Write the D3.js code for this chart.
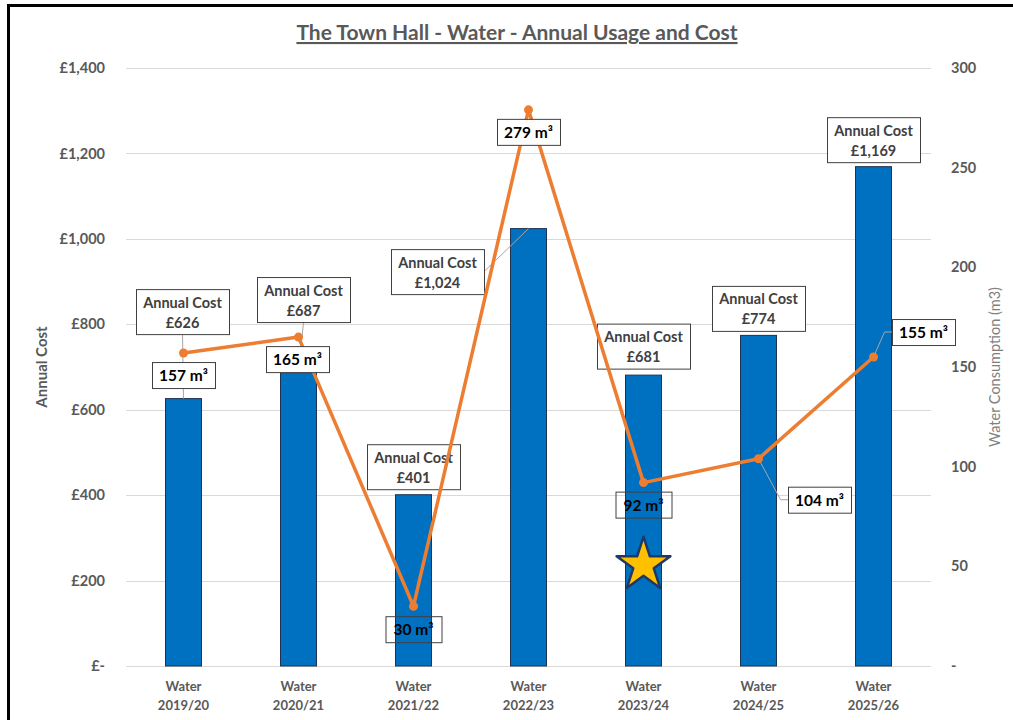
<!DOCTYPE html>
<html>
<head>
<meta charset="utf-8">
<script src="https://cdn.jsdelivr.net/npm/d3@7"></script>
<style>
  body { margin: 0; background: #fff; }
  text { font-family: Lato, "Open Sans", sans-serif; }
</style>
</head>
<body>
<div id="chart"></div>
<script>
// chart data
var years = ["2019/20", "2020/21", "2021/22", "2022/23", "2023/24", "2024/25", "2025/26"];
var costs = [626, 687, 401, 1024, 681, 774, 1169];
var usage = [157, 165, 30, 279, 92, 104, 155];
var costTicks = [0, 200, 400, 600, 800, 1000, 1200, 1400];
var usageTicks = [0, 50, 100, 150, 200, 250, 300];

// label placement (offsets from the mark, px)
var costLabelOffset = [[-1, -87], [5, -73], [0, -28], [-91, 43], [0, -29], [0, -27], [0, -27]];
var usageLabelOffset = [[0, 22], [-1, 22], [0, 23], [0, 22], [0, 22], [61, 41], [50, -25]];
var usageLabelFilled = [true, true, false, true, false, true, true];

var width = 1013, height = 720;
var margin = {top: 68, left: 126, right: 82, bottom: 54};

var svg = d3.select("#chart").append("svg")
    .attr("width", width)
    .attr("height", height);

// outer frame
svg.append("rect")
    .attr("x", 8.5).attr("y", 5.5)
    .attr("width", 1012).attr("height", 720)
    .attr("fill", "none").attr("stroke", "#000").attr("stroke-width", 3);

var x = d3.scaleBand()
    .domain(years)
    .range([margin.left, width - margin.right]);

var yCost = d3.scaleLinear()
    .domain([0, 1400])
    .range([height - margin.bottom, margin.top]);

var yUse = d3.scaleLinear()
    .domain([0, 300])
    .range([height - margin.bottom, margin.top]);

var barW = 36;
var cxi = function(i) { return x(years[i]) + x.bandwidth() / 2; };
var cx = function(d, i) { return cxi(i); };

// title
svg.append("text")
    .attr("x", 517).attr("y", 40)
    .attr("text-anchor", "middle")
    .attr("font-size", 21).attr("font-weight", "bold")
    .attr("fill", "#595959")
    .attr("text-decoration", "underline")
    .text("The Town Hall - Water - Annual Usage and Cost");

// gridlines
svg.append("g")
    .selectAll("line")
    .data(costTicks)
    .enter().append("line")
    .attr("x1", margin.left).attr("x2", width - margin.right)
    .attr("y1", function(d) { return Math.round(yCost(d)) + 0.5; })
    .attr("y2", function(d) { return Math.round(yCost(d)) + 0.5; })
    .attr("stroke", "#D9D9D9").attr("stroke-width", 1);

// left axis
var fmtCost = function(d) { return d === 0 ? "£-" : "£" + d3.format(",")(d); };
var leftAxis = svg.append("g")
    .attr("transform", "translate(" + (margin.left - 18) + ",0)")
    .call(d3.axisLeft(yCost).tickValues(costTicks).tickFormat(fmtCost).tickSize(0));
leftAxis.select(".domain").remove();
leftAxis.selectAll("text")
    .attr("font-size", 14.5).attr("font-weight", "bold").attr("fill", "#595959")
    .attr("font-family", "Lato, sans-serif");

// right axis
var rightAxis = svg.append("g")
    .attr("transform", "translate(" + (width - margin.right + 17) + ",0)")
    .call(d3.axisRight(yUse).tickValues(usageTicks)
        .tickFormat(function(d) { return d === 0 ? "-" : d; }).tickSize(0));
rightAxis.select(".domain").remove();
rightAxis.selectAll("text")
    .attr("font-size", 14.5).attr("font-weight", "bold").attr("fill", "#595959")
    .attr("font-family", "Lato, sans-serif");

// axis titles
svg.append("text")
    .attr("transform", "translate(47,367) rotate(-90)")
    .attr("text-anchor", "middle")
    .attr("font-size", 15).attr("font-weight", "bold").attr("fill", "#595959")
    .text("Annual Cost");

svg.append("text")
    .attr("transform", "translate(1000,367) rotate(-90)")
    .attr("text-anchor", "middle")
    .attr("font-size", 14.5).attr("fill", "#7F7F7F")
    .text("Water Consumption (m3)");

// x labels
var xl = svg.append("g").selectAll("text")
    .data(years)
    .enter().append("text")
    .attr("text-anchor", "middle")
    .attr("font-size", 13).attr("font-weight", "bold").attr("fill", "#595959");
xl.append("tspan").attr("x", cx).attr("y", 691).text("Water");
xl.append("tspan").attr("x", cx).attr("y", 710).text(function(d) { return d; });

// bars
svg.append("g")
    .selectAll("rect")
    .data(costs)
    .enter().append("rect")
    .attr("x", function(d, i) { return cx(d, i) - barW / 2; })
    .attr("y", function(d) { return yCost(d); })
    .attr("width", barW)
    .attr("height", function(d) { return yCost(0) - yCost(d); })
    .attr("fill", "#0070C0")
    .attr("stroke", "#1F3250").attr("stroke-width", 1);

// cost label leaders (only where the label sits far from its bar)
var boxW = 93, boxH = 45;
var costLeaders = d3.range(costs.length).filter(function(i) {
    return Math.abs(costLabelOffset[i][1]) > 40;
});
svg.append("g")
    .selectAll("line")
    .data(costLeaders)
    .enter().append("line")
    .attr("x1", function(i) { return cxi(i); })
    .attr("y1", function(i) { return yCost(costs[i]); })
    .attr("x2", function(i) {
        var o = costLabelOffset[i];
        return o[0] < -50 ? cxi(i) + o[0] + boxW / 2 : cxi(i) + o[0];
    })
    .attr("y2", function(i) {
        var o = costLabelOffset[i];
        return o[0] < -50 ? yCost(costs[i]) + o[1] : yCost(costs[i]) + o[1] + boxH / 2;
    })
    .attr("stroke", "#A6A6A6").attr("stroke-width", 1);

// cost labels
var cl = svg.append("g")
    .selectAll("g")
    .data(costs)
    .enter().append("g")
    .attr("transform", function(d, i) {
        var o = costLabelOffset[i];
        return "translate(" + (cx(d, i) + o[0]) + "," + (yCost(d) + o[1]) + ")";
    });
cl.append("rect")
    .attr("x", -boxW / 2 + 0.5).attr("y", -boxH / 2 + 0.5)
    .attr("width", boxW).attr("height", boxH)
    .attr("fill", "#fff").attr("stroke", "#404040").attr("stroke-width", 1);
cl.append("text")
    .attr("text-anchor", "middle").attr("y", -4)
    .attr("font-size", 14.5).attr("font-weight", "bold").attr("fill", "#404040")
    .text("Annual Cost");
cl.append("text")
    .attr("text-anchor", "middle").attr("y", 16)
    .attr("font-size", 14.5).attr("font-weight", "bold").attr("fill", "#404040")
    .text(function(d) { return "£" + d3.format(",")(d); });

// usage label leaders
var useLeaders = d3.range(usage.length).filter(function(i) {
    return Math.abs(usageLabelOffset[i][0]) > 20;
});
svg.append("g")
    .selectAll("path")
    .data(useLeaders)
    .enter().append("path")
    .attr("d", function(i) {
        var o = usageLabelOffset[i];
        var px = cxi(i), py = yUse(usage[i]);
        var ex = px + o[0] - 31, ey = py + o[1];
        return "M" + px + "," + py + "L" + (ex - 8) + "," + ey + "L" + ex + "," + ey;
    })
    .attr("fill", "none").attr("stroke", "#A6A6A6").attr("stroke-width", 1);

// usage line
var line = d3.line()
    .x(function(d, i) { return cx(d, i); })
    .y(function(d) { return yUse(d); });

svg.append("path")
    .datum(usage)
    .attr("d", line)
    .attr("fill", "none")
    .attr("stroke", "#ED7D31").attr("stroke-width", 3.5)
    .attr("stroke-linejoin", "round");

svg.append("g")
    .selectAll("circle")
    .data(usage)
    .enter().append("circle")
    .attr("cx", function(d, i) { return cx(d, i); })
    .attr("cy", function(d) { return yUse(d); })
    .attr("r", 4.5)
    .attr("fill", "#ED7D31");

// usage labels
var ul = svg.append("g")
    .selectAll("g")
    .data(usage)
    .enter().append("g")
    .attr("transform", function(d, i) {
        var o = usageLabelOffset[i];
        return "translate(" + (cx(d, i) + o[0]) + "," + (yUse(d) + o[1]) + ")";
    });
ul.append("rect")
    .attr("x", function(d) { return d < 100 ? -28 + 0.5 : -31.5 + 0.5; })
    .attr("y", -12.5)
    .attr("width", function(d) { return d < 100 ? 56 : 63; })
    .attr("height", 26)
    .attr("fill", function(d, i) { return usageLabelFilled[i] ? "#fff" : "none"; })
    .attr("stroke", "#404040").attr("stroke-width", 1);
ul.append("text")
    .attr("text-anchor", "middle").attr("y", 6)
    .attr("font-size", 15.5).attr("font-weight", "bold").attr("fill", "#000")
    .text(function(d) { return d + " m\u00B3"; });

// star marker on 2023/24
var star = d3.symbol().type(d3.symbolStar).size(900);
svg.append("path")
    .attr("d", star())
    .attr("transform", "translate(" + cxi(4) + ",565)")
    .attr("fill", "#FFC000")
    .attr("stroke", "#203864").attr("stroke-width", 2.5)
    .attr("stroke-linejoin", "round");
</script>
</body>
</html>
